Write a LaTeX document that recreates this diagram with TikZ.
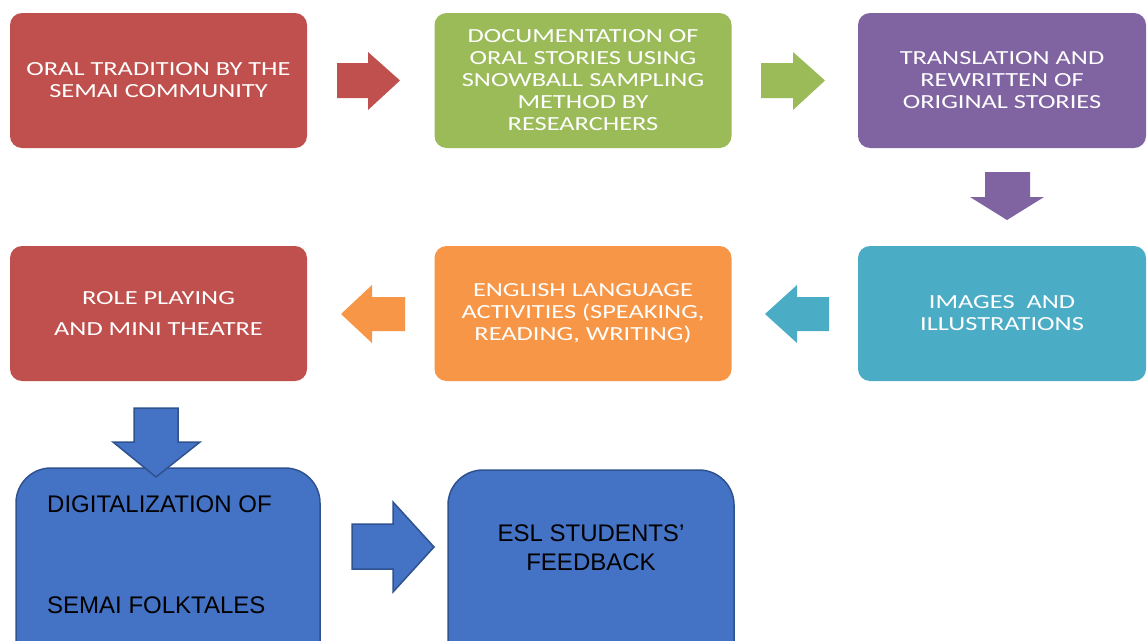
\documentclass[tikz,border=0pt]{standalone}
\usepackage{fontspec}
\setmainfont{Carlito}
\newfontfamily\calib[FakeStretch=1.32]{Carlito}
\newfontfamily\arialf{Liberation Sans}
\definecolor{cred}{HTML}{C0504D}
\definecolor{cgreen}{HTML}{9BBB59}
\definecolor{cpurple}{HTML}{8064A2}
\definecolor{cteal}{HTML}{4BACC6}
\definecolor{corange}{HTML}{F79646}
\definecolor{cblue}{HTML}{4472C4}
\definecolor{cblueline}{HTML}{2F528F}
\begin{document}
\begin{tikzpicture}[x=1pt,y=-1pt,
  box/.style={rounded corners=12pt, inner sep=0pt, text=white, align=center,
    minimum width=297pt, minimum height=135pt,
    font=\calib\fontsize{20}{22}\selectfont},
  bbox/.style={rounded corners=35pt, fill=cblue, draw=cblueline, line width=1.5pt},
  barrow/.style={fill=cblue, draw=cblueline, line width=1.5pt},
  btext/.style={inner sep=0pt, font=\arialf\fontsize{24}{29}\selectfont, text=black}
]
\clip (0,0) rectangle (1147,640);
\fill[white] (0,0) rectangle (1147,640);

% row 1
\node[box, fill=cred] (b1) at (158.5,80.5) {ORAL TRADITION BY THE\\SEMAI COMMUNITY};
\node[box, fill=cgreen] (b2) at (583,80.5) {DOCUMENTATION OF\\ORAL STORIES USING\\SNOWBALL SAMPLING\\METHOD BY\\RESEARCHERS};
\node[box, fill=cpurple, minimum width=288pt] (b3) at (1002,80.5) {TRANSLATION AND\\REWRITTEN OF\\ORIGINAL STORIES};

% row 2
\node[box, fill=cred] (b4) at (158.5,313.5) {ROLE PLAYING\\[9pt]AND MINI THEATRE};
\node[box, fill=corange] (b5) at (583,313.5) {ENGLISH LANGUAGE\\ACTIVITIES (SPEAKING,\\READING, WRITING)};
\node[box, fill=cteal, minimum width=288pt] (b6) at (1002,313.5) {IMAGES~ AND\\ILLUSTRATIONS};

% arrows row 1/2
\fill[cred] (337,63)--(368,63)--(368,52)--(400,80.5)--(368,110)--(368,98)--(337,98)--cycle;
\fill[cgreen] (761,63)--(793,63)--(793,52)--(825,80.5)--(793,110)--(793,98)--(761,98)--cycle;
\fill[cpurple] (985,172)--(1030,172)--(1030,197)--(1044,197)--(1007,220)--(970,197)--(985,197)--cycle;
\fill[cteal] (829,297)--(797,297)--(797,285)--(765,314)--(797,343)--(797,331)--(829,331)--cycle;
\fill[corange] (405,297)--(372,297)--(372,285)--(341,314)--(372,343)--(372,331)--(405,331)--cycle;

% row 3
\draw[bbox] (16,468) rectangle (320,700);
\node[btext, anchor=base west] (d1) at (47,512) {DIGITALIZATION OF};
\node[btext, anchor=base west] (d2) at (47,613) {SEMAI FOLKTALES};
\draw[bbox] (448,470) rectangle (734,700);
\node[btext, anchor=base] (e1) at (591,541) {ESL STUDENTS’};
\node[btext, anchor=base] (e2) at (591,570) {FEEDBACK};

\draw[barrow] (134,408)--(178,408)--(178,442)--(200,442)--(156,477)--(113,442)--(134,442)--cycle;
\draw[barrow] (352,524)--(393,524)--(393,502)--(434,547)--(393,592)--(393,569)--(352,569)--cycle;
\end{tikzpicture}
\end{document}
